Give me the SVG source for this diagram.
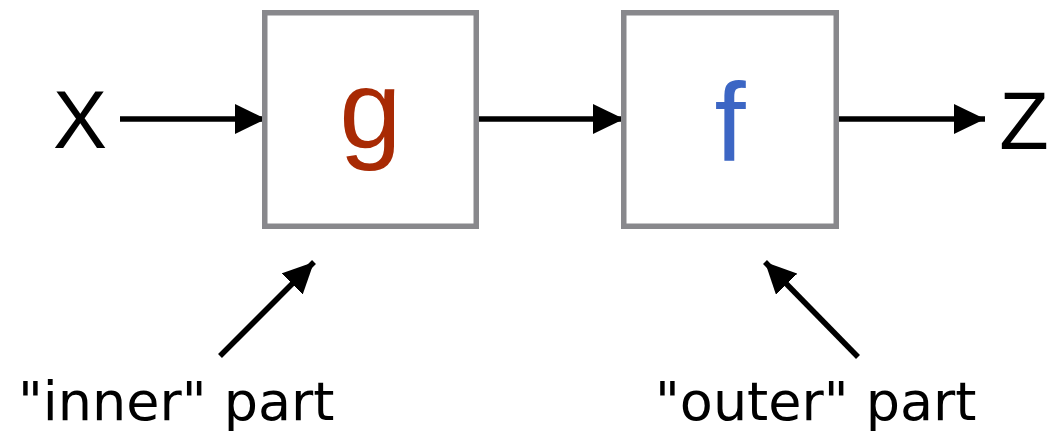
<svg xmlns="http://www.w3.org/2000/svg" width="1052" height="433" viewBox="0 0 1052 433">
  <defs>
    <style>
      .box { fill: #ffffff; stroke: #88888c; stroke-width: 5.5; }
      .edge { stroke: #000000; stroke-width: 5.5; fill: none; }
      .big { font-family: "Liberation Sans", Arial, sans-serif; }
      .lbl { font-family: "DejaVu Sans", Verdana, sans-serif; font-size: 54px; fill: #000000; }
    </style>
    <marker id="arrow" markerUnits="userSpaceOnUse" markerWidth="31" markerHeight="30" refX="31" refY="15" orient="auto">
      <path d="M0,0 L31,15 L0,30 Z" fill="#000000"/>
    </marker>
  </defs>
  <rect width="1052" height="433" fill="#ffffff"/>

  <g id="connectors">
    <line class="edge" x1="120" y1="119" x2="266" y2="119" marker-end="url(#arrow)"/>
    <line class="edge" x1="479" y1="119" x2="624" y2="119" marker-end="url(#arrow)"/>
    <line class="edge" x1="839" y1="119" x2="985" y2="119" marker-end="url(#arrow)"/>
    <line class="edge" x1="220" y1="356" x2="314" y2="262" marker-end="url(#arrow)"/>
    <line class="edge" x1="858" y1="357" x2="765" y2="262" marker-end="url(#arrow)"/>
  </g>

  <g id="node-x">
    <text class="big" x="80" y="148" font-size="81" text-anchor="middle" fill="#000000">X</text>
  </g>
  <g id="node-g">
    <rect class="box" x="264.75" y="12.75" width="211.5" height="213.5"/>
    <text class="big" x="370.5" y="148" font-size="112" text-anchor="middle" fill="#a82a04">g</text>
  </g>
  <g id="node-f">
    <rect class="box" x="623.75" y="12.75" width="212.5" height="213.5"/>
    <text class="big" x="730" y="161" font-size="112" text-anchor="middle" fill="#3c66c4">f</text>
  </g>
  <g id="node-z">
    <text class="big" x="1024" y="149" font-size="81" text-anchor="middle" fill="#000000">Z</text>
  </g>
  <g id="label-inner">
    <text class="lbl" x="18" y="420">"inner" part</text>
  </g>
  <g id="label-outer">
    <text class="lbl" x="655" y="420">"outer" part</text>
  </g>
</svg>
